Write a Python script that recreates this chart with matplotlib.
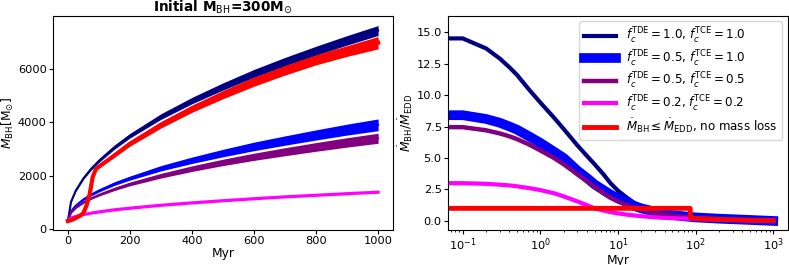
import numpy as np
import matplotlib
matplotlib.use("Agg")
import matplotlib.pyplot as plt

# ---------------- Left panel data (Myr, Msun) ----------------
t_left = [0, 10, 25, 50, 75, 100, 150, 200, 300, 400, 500, 600, 700, 800, 900, 1000]

navy_low = [300, 995, 1400, 1860, 2210, 2500, 2995, 3415, 4115, 4700, 5215, 5690, 6120, 6520, 6902, 7265]
navy_high = [300, 1035, 1460, 1940, 2310, 2620, 3145, 3585, 4325, 4940, 5485, 5990, 6440, 6860, 7258, 7635]

blue_low = [300, 645, 845, 1075, 1245, 1390, 1635, 1835, 2180, 2460, 2710, 2940, 3145, 3340, 3525, 3690]
blue_high = [300, 675, 895, 1145, 1335, 1490, 1765, 1985, 2380, 2700, 2990, 3260, 3495, 3720, 3935, 4130]

purple_low = [300, 598, 770, 965, 1112, 1235, 1442, 1622, 1912, 2160, 2380, 2575, 2750, 2917, 3074, 3217]
purple_high = [300, 622, 810, 1025, 1188, 1325, 1558, 1758, 2088, 2370, 2620, 2845, 3050, 3243, 3426, 3593]

magenta_mid = [300, 410, 470, 540, 595, 640, 720, 780, 890, 980, 1060, 1135, 1205, 1265, 1325, 1380]

t_red = [0, 10, 20, 30, 40, 50, 60, 70, 80, 90, 100, 150, 200, 300, 400, 500, 600, 700, 800, 900, 1000]
red_low = [300, 330, 380, 440, 500, 600, 880, 1300, 1950, 2230, 2300, 2700, 3110, 3790, 4380, 4890, 5360, 5780, 6160, 6480, 6760]
red_high = [300, 330, 380, 440, 500, 600, 880, 1300, 1950, 2260, 2380, 2820, 3290, 4030, 4650, 5200, 5700, 6140, 6540, 6880, 7224]

# ---------------- Right panel data (Myr, ratio) ----------------
t_right = [0, 0.1, 0.2, 0.3, 0.4, 0.5, 0.7, 1, 1.5, 2, 3, 4, 5, 6.5, 8, 10, 13, 16, 20,
           27, 35, 50, 70, 100, 200, 500, 1000]
r_navy = [14.5, 14.5, 13.7, 12.9, 12.2, 11.6, 10.5, 9.4, 8.2, 7.3, 6.0, 5.15, 4.5, 3.7, 3.0,
          2.4, 1.85, 1.45, 1.15, 0.88, 0.7, 0.53, 0.42, 0.3, 0.2, 0.12, 0.08]
r_blue = [8.4, 8.4, 8.1, 7.8, 7.5, 7.25, 6.75, 6.2, 5.5, 5.0, 4.0, 3.4, 2.9, 2.45, 2.1,
          1.8, 1.5, 1.2, 1.0, 0.8, 0.6, 0.47, 0.37, 0.28, 0.18, 0.08, 0.0]
r_purple = [7.45, 7.45, 7.2, 6.95, 6.72, 6.5, 6.1, 5.6, 5.0, 4.5, 3.7, 3.15, 2.7, 2.2, 1.85,
            1.55, 1.25, 1.05, 0.9, 0.7, 0.55, 0.43, 0.33, 0.25, 0.15, 0.08, 0.05]
r_magenta = [3.0, 3.0, 2.95, 2.88, 2.82, 2.75, 2.62, 2.45, 2.2, 1.95, 1.55, 1.25, 1.0, 0.82, 0.7,
             0.6, 0.5, 0.44, 0.38, 0.31, 0.26, 0.22, 0.19, 0.15, 0.1, 0.04, 0.0]

t_red_r = [0, 0.1, 1, 10, 85, 86, 100, 200, 500, 1000]
r_red = [1.0, 1.0, 1.0, 1.0, 1.0, 0.22, 0.19, 0.12, 0.05, 0.02]

labels = [r'$f_c^{\rm TDE}=1.0$, $f_c^{\rm TCE}=1.0$',
          r'$f_c^{\rm TDE}=0.5$, $f_c^{\rm TCE}=1.0$',
          r'$f_c^{\rm TDE}=0.5$, $f_c^{\rm TCE}=0.5$',
          r'$f_c^{\rm TDE}=0.2$, $f_c^{\rm TCE}=0.2$',
          r'$\dot M_{\rm BH}\leq\dot M_{\rm EDD}$, no mass loss']

NAVY, BLUE, PURPLE, MAG, RED = 'navy', 'blue', 'purple', 'magenta', 'red'
TFS = 8.2   # tick labels
LFS = 8.8   # axis labels

fig = plt.figure(figsize=(7.89, 2.65), dpi=100)
ax1 = fig.add_axes([53/789, 35/265, 340/789, 214.5/265])
ax2 = fig.add_axes([448/789, 35/265, 340/789, 214.5/265])

# Left
ax1.fill_between(t_left, navy_low, navy_high, color=NAVY, lw=0)
ax1.plot(t_left, np.add(navy_low, navy_high) / 2, color=NAVY, lw=1.5)
ax1.fill_between(t_left, blue_low, blue_high, color=BLUE, lw=0)
ax1.plot(t_left, np.add(blue_low, blue_high) / 2, color=BLUE, lw=1.5)
ax1.fill_between(t_left, purple_low, purple_high, color=PURPLE, lw=0)
ax1.plot(t_left, np.add(purple_low, purple_high) / 2, color=PURPLE, lw=1.5)
ax1.plot(t_left, magenta_mid, color=MAG, lw=2.3)
ax1.fill_between(t_red, red_low, red_high, color=RED, lw=0)
ax1.plot(t_red, np.add(red_low, red_high) / 2, color=RED, lw=3)

ax1.set_xlim(-48, 1048)
ax1.set_ylim(-38, 8013)
ax1.set_xticks([0, 200, 400, 600, 800, 1000])
ax1.set_yticks([0, 2000, 4000, 6000])
ax1.set_xlabel('Myr', fontsize=LFS, labelpad=0.5)
ax1.set_ylabel(r'$M_{\rm BH} [\rm M_{\odot}]$', fontsize=LFS, labelpad=1)
ax1.set_title(r'Initial M$_{\rm BH}$=300M$_{\odot}$', fontsize=9.8, fontweight='bold', pad=1.5)
ax1.tick_params(labelsize=TFS, length=3, pad=1.5)

# Right
ax2.plot(t_right, r_navy, color=NAVY, lw=3, label=labels[0])
ax2.plot(t_right, r_blue, color=BLUE, lw=7, label=labels[1])
ax2.plot(t_right, r_purple, color=PURPLE, lw=3.2, label=labels[2])
ax2.plot(t_right, r_magenta, color=MAG, lw=3, label=labels[3])
ax2.plot(t_red_r, r_red, color=RED, lw=3.5, label=labels[4])
ax2.set_xscale('log')
ax2.set_xlim(10**-1.19, 10**3.19)
ax2.set_ylim(-0.72, 16.32)
ax2.set_yticks([0, 2.5, 5, 7.5, 10, 12.5, 15])
ax2.set_xlabel('Myr', fontsize=LFS, labelpad=0.5)
ax2.set_ylabel(r'$\dot M_{\rm BH}/\dot M_{\rm EDD}$', fontsize=LFS, labelpad=1)
ax2.tick_params(labelsize=TFS, length=3, pad=1.5)
ax2.tick_params(which='minor', length=1.5)
ax2.legend(loc='upper right', fontsize=8.6, handlelength=2.7, borderaxespad=0.5,
           labelspacing=0.2, borderpad=0.4, framealpha=0.8)

fig.savefig('out.png', dpi=100)
